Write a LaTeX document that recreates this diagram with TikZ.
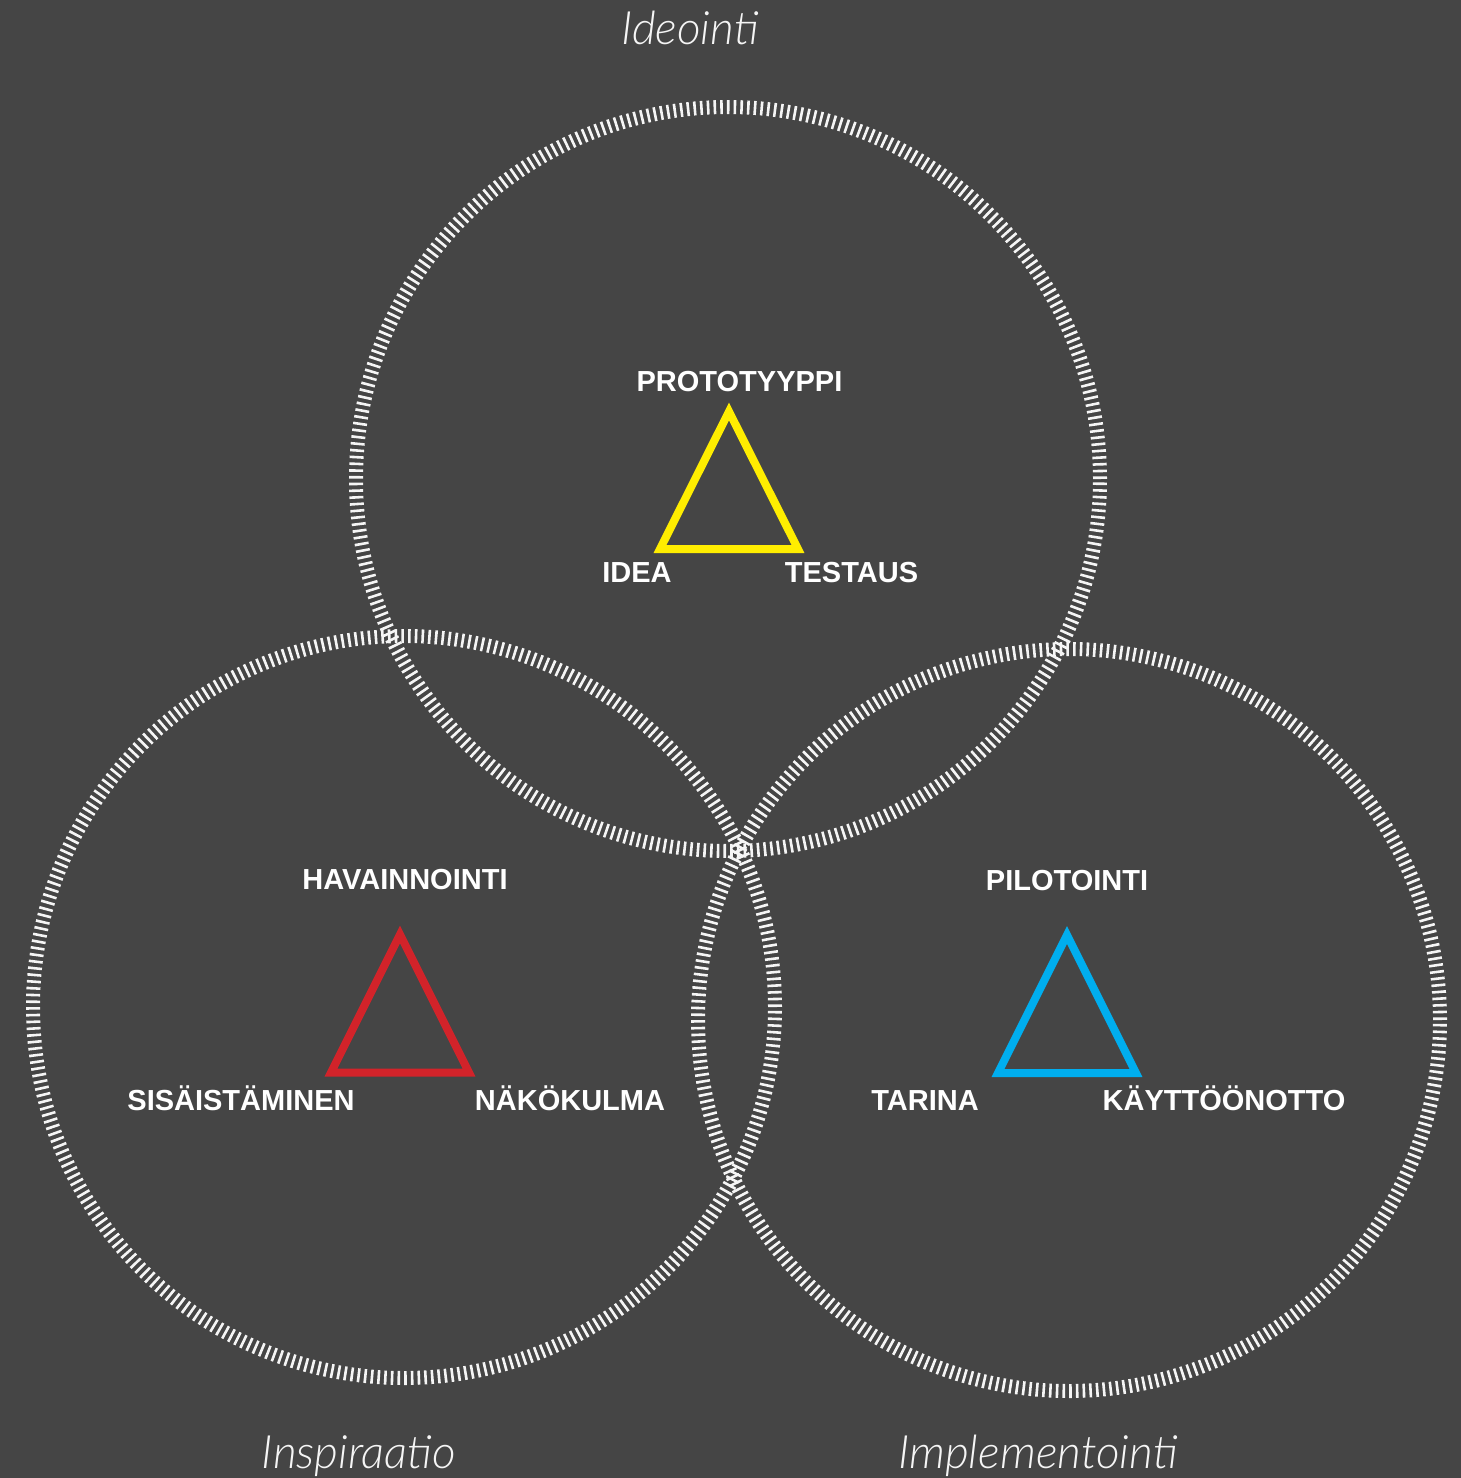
\documentclass[tikz,border=0pt]{standalone}
\usepackage{fontspec}
\setmainfont{Liberation Sans}
\newfontfamily\thinfont{Lato Light Italic}
\definecolor{bgc}{HTML}{454545}
\definecolor{tyellow}{HTML}{FFED00}
\definecolor{tred}{HTML}{D2232A}
\definecolor{tblue}{HTML}{00AEEF}
\begin{document}
\begin{tikzpicture}[x=1pt,y=-1pt,
  tickring/.style={draw=white!92!gray, line width=14pt, dash pattern=on 2.6pt off 4.1pt},
  capslabel/.style={text=white, font=\bfseries\fontsize{29}{31}\selectfont, anchor=base, inner sep=0pt},
  phaselabel/.style={text=white!92!gray, font=\thinfont\fontsize{46}{48}\selectfont, anchor=base, inner sep=0pt},
  tri/.style={line width=8pt, line join=miter}]
\fill[bgc] (0,0) rectangle (1461,1478);
\useasboundingbox (0,0) rectangle (1461,1478);
% rings
\draw[tickring] (728,479) circle (372pt);
\draw[tickring] (404,1007) circle (371pt);
\draw[tickring] (1069,1020) circle (371pt);
% phase labels
\node[phaselabel] (ideo) at (690,44) {Ideointi};
\node[phaselabel] (insp) at (359,1468) {Inspiraatio};
\node[phaselabel] (impl) at (1038,1468) {Implementointi};
% yellow triangle
\coordinate (ya) at (729,411.5);
\coordinate (yl) at (660,549);
\coordinate (yr) at (798,549);
\draw[tri, tyellow] (ya) -- (yl) -- (yr) -- cycle;
\node[capslabel] (proto) at (739.5,391) {PROTOTYYPPI};
\node[capslabel] (idea) at (637,582) {IDEA};
\node[capslabel] (test) at (851.5,582) {TESTAUS};
% red triangle
\coordinate (ra) at (400,934.5);
\coordinate (rl) at (331,1072.5);
\coordinate (rr) at (469,1072.5);
\draw[tri, tred] (ra) -- (rl) -- (rr) -- cycle;
\node[capslabel] (hav) at (405,889) {HAVAINNOINTI};
\node[capslabel] (sis) at (241,1110) {SISÄISTÄMINEN};
\node[capslabel] (nak) at (570,1110) {NÄKÖKULMA};
% blue triangle
\coordinate (ba) at (1067,935);
\coordinate (bl) at (998,1073);
\coordinate (br) at (1136,1073);
\draw[tri, tblue] (ba) -- (bl) -- (br) -- cycle;
\node[capslabel] (pil) at (1067,890) {PILOTOINTI};
\node[capslabel] (tar) at (925,1110) {TARINA};
\node[capslabel] (kay) at (1224,1110) {KÄYTTÖÖNOTTO};
\end{tikzpicture}
\end{document}
